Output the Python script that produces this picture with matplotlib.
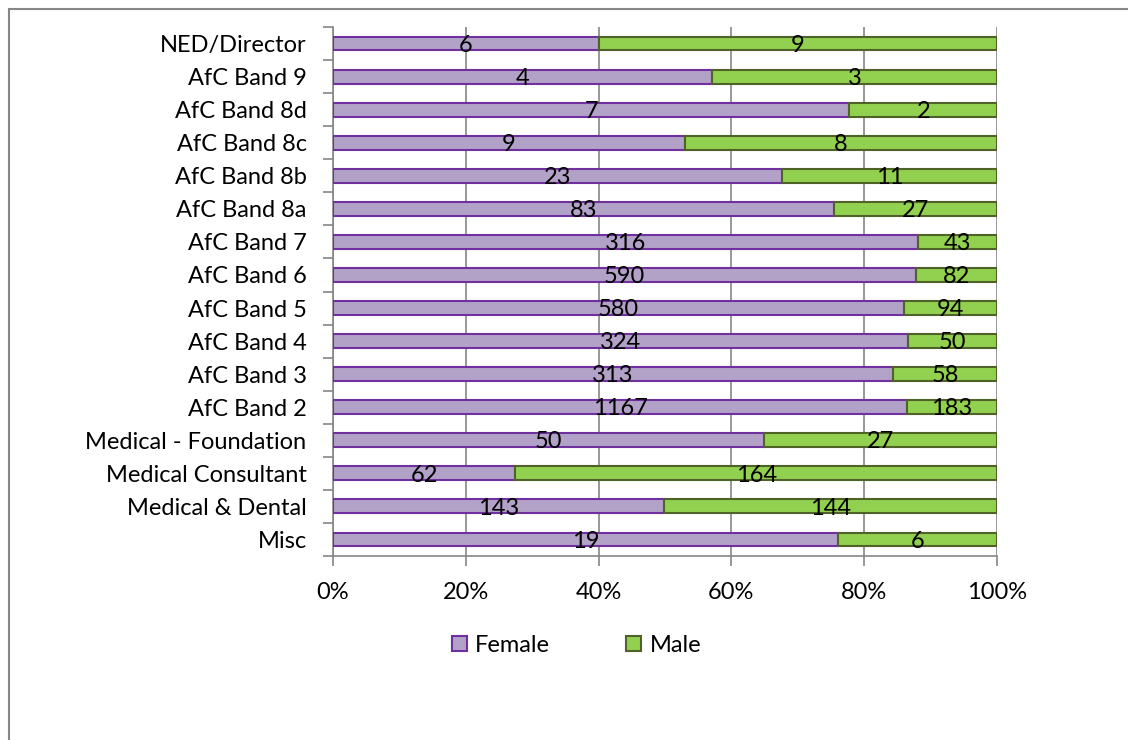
import matplotlib.pyplot as plt
import numpy as np
from matplotlib.patches import Rectangle

categories = ["NED/Director", "AfC Band 9", "AfC Band 8d", "AfC Band 8c", "AfC Band 8b",
              "AfC Band 8a", "AfC Band 7", "AfC Band 6", "AfC Band 5", "AfC Band 4",
              "AfC Band 3", "AfC Band 2", "Medical - Foundation", "Medical Consultant",
              "Medical & Dental", "Misc"]
female = [6, 4, 7, 9, 23, 83, 316, 590, 580, 324, 313, 1167, 50, 62, 143, 19]
male = [9, 3, 2, 8, 11, 27, 43, 82, 94, 50, 58, 183, 27, 164, 144, 6]

plt.rcParams['font.family'] = ['Lato', 'DejaVu Sans']
FS = 17

female_pct = np.array(female) / (np.array(female) + np.array(male)) * 100
male_pct = 100 - female_pct
y = np.arange(len(categories))[::-1]

fig = plt.figure(figsize=(11.28, 7.40), dpi=100)
ax = fig.add_axes([0.2952, 0.2486, 0.5887, 0.7149])

ax.barh(y, female_pct, height=0.42, color="#B3A2C7", edgecolor="#7030A0",
        linewidth=1.5, label="Female", zorder=3)
ax.barh(y, male_pct, left=female_pct, height=0.42, color="#92D050",
        edgecolor="#4F6228", linewidth=1.5, label="Male", zorder=3)

for yi, fp, mp, f, m in zip(y, female_pct, male_pct, female, male):
    ax.text(fp / 2, yi - 0.05, str(f), ha="center", va="center", fontsize=FS, zorder=4)
    ax.text(fp + mp / 2, yi - 0.05, str(m), ha="center", va="center", fontsize=FS, zorder=4)

ax.set_xlim(0, 100)
ax.set_ylim(-0.5, len(categories) - 0.5)
ax.set_xticks(np.arange(0, 101, 20))
ax.set_xticklabels([f"{v}%" for v in range(0, 101, 20)], fontsize=FS)
ax.set_yticks(y)
ax.set_yticklabels(categories, fontsize=FS)
ax.set_yticks(np.arange(-0.5, len(categories)), minor=True)
ax.tick_params(axis="y", which="major", length=0, pad=19)
ax.tick_params(axis="y", which="minor", length=7, color="#868686", width=1.2)
ax.tick_params(axis="x", length=7, color="#868686", width=1.2, pad=12)
ax.grid(axis="x", color="#868686", linewidth=1.2, zorder=0)
for side in ["top", "right"]:
    ax.spines[side].set_visible(False)
for side in ["left", "bottom"]:
    ax.spines[side].set_color("#868686")
    ax.spines[side].set_linewidth(1.2)

fig.legend(loc="center", bbox_to_anchor=(0.511, 0.128), ncol=2, frameon=False,
           fontsize=FS, handlelength=0.65, handleheight=0.65, handletextpad=0.35,
           columnspacing=3.2)

# chart frame along the top and left edges
fig.add_artist(Rectangle((9 / 1128, -0.1), 1.2, 1.1 - 9 / 740, transform=fig.transFigure,
                         fill=False, edgecolor="#868686", linewidth=1.5))

fig.savefig("out.png", dpi=100)
